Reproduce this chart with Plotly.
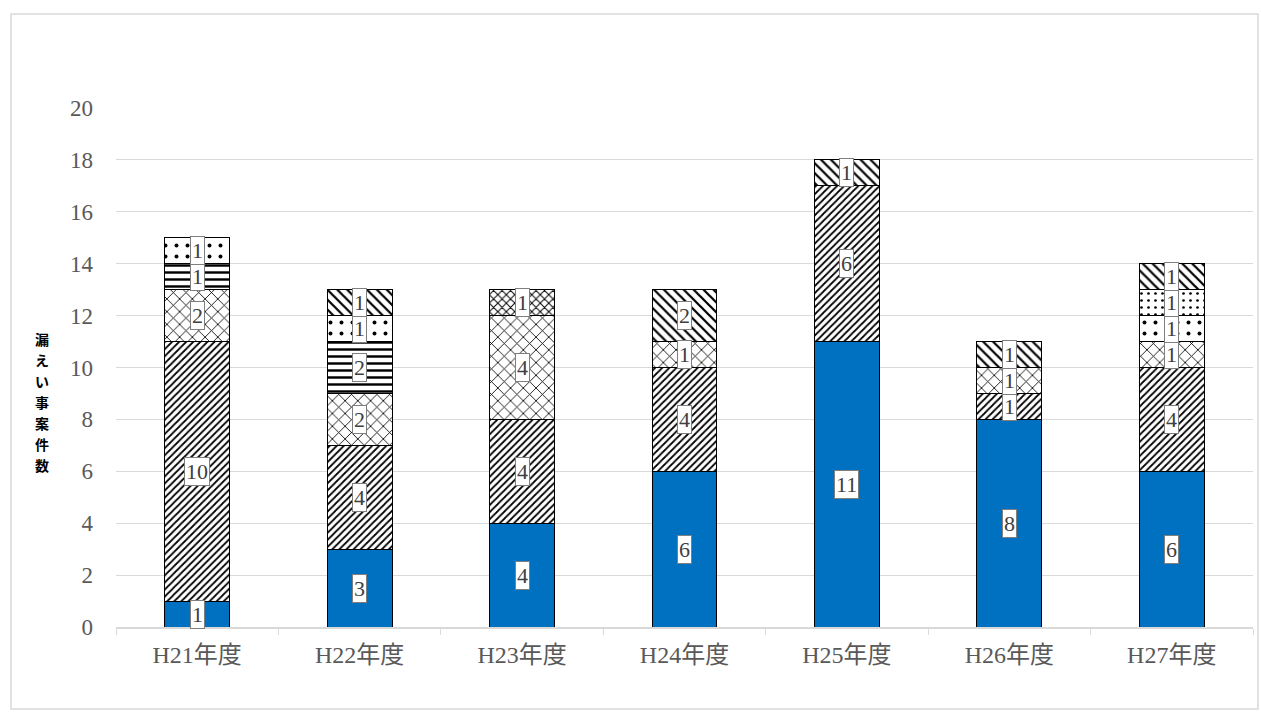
import plotly.graph_objects as go

categories = ["H21年度", "H22年度", "H23年度", "H24年度", "H25年度", "H26年度", "H27年度"]

s_blue = [1, 3, 4, 6, 11, 8, 6]
s_fdiag = [10, 4, 4, 4, 6, 1, 4]
s_wave = [2, 2, 4, 1, 0, 1, 1]
s_hline = [1, 2, 0, 0, 0, 0, 0]
s_rdots = [1, 1, 0, 0, 0, 0, 1]
s_gdots = [0, 0, 0, 0, 0, 0, 1]
s_weave = [0, 0, 1, 0, 0, 0, 0]
s_bdiag = [0, 1, 0, 2, 1, 1, 1]

yticks = [0, 2, 4, 6, 8, 10, 12, 14, 16, 18, 20]
y_title = "漏えい事案件数"


def pat(shape, size, solidity):
    return dict(color="white", pattern=dict(shape=shape, fgcolor="black", bgcolor="white",
                                            fgopacity=1, size=size, solidity=solidity))


series = [
    (s_blue, dict(color="#0070C0")),
    (s_fdiag, pat("/", 5, 0.35)),
    (s_wave, pat("x", 9, 0.18)),
    (s_hline, pat("-", 7, 0.35)),
    (s_rdots, pat(".", 11, 0.1)),
    (s_gdots, pat(".", 7, 0.12)),
    (s_weave, pat("x", 6, 0.3)),
    (s_bdiag, pat("\\", 7, 0.32)),
]

fig = go.Figure()
for vals, marker in series:
    m = dict(marker)
    m["line"] = dict(color="black", width=1)
    fig.add_trace(go.Bar(x=categories, y=vals, marker=m, hoverinfo="skip"))

annotations = []
cum = [0] * len(categories)
for vals, _ in series:
    for i, v in enumerate(vals):
        if v > 0:
            annotations.append(dict(
                x=categories[i], y=cum[i] + v / 2, xref="x", yref="y",
                text=str(v), showarrow=False,
                font=dict(family="Liberation Serif", size=22, color="#404040"),
                bgcolor="white", bordercolor="#7f7f7f", borderwidth=1, borderpad=1,
            ))
        cum[i] += v

# vertical y-axis title, one character per line
for k, ch in enumerate(y_title):
    annotations.append(dict(
        x=-0.065, y=(627 - (339 + 21 * k)) / 519, xref="paper", yref="paper",
        text="<b>" + ch + "</b>", showarrow=False,
        font=dict(family="Noto Sans CJK JP", size=14, color="black"),
        xanchor="center", yanchor="middle", borderpad=0,
    ))

fig.update_layout(
    barmode="stack",
    bargap=0.6,
    width=1261, height=720,
    margin=dict(l=116, r=8, t=108, b=93),
    paper_bgcolor="white", plot_bgcolor="white",
    showlegend=False,
    annotations=annotations,
    shapes=[dict(type="rect", xref="paper", yref="paper",
                 x0=-0.0923, x1=1.0044, y0=-0.158, y1=1.181,
                 line=dict(color="#d9d9d9", width=1.5), fillcolor="rgba(0,0,0,0)", layer="below")],
    font=dict(family="Liberation Serif, Noto Sans CJK JP", color="#595959", size=18),
)
fig.update_xaxes(
    showline=True, linecolor="#d9d9d9", linewidth=1.5,
    ticks="outside", tickson="boundaries", ticklen=6, tickcolor="#d9d9d9",
    tickfont=dict(family="Liberation Serif, Noto Sans CJK JP", size=24, color="#595959"),
    ticklabelstandoff=5,
    showgrid=False,
)
fig.update_yaxes(
    range=[0, 20], tickvals=yticks, showgrid=True, gridcolor="#d9d9d9", gridwidth=1,
    zeroline=False, showline=False, ticks="",
    tickfont=dict(family="Liberation Serif", size=23, color="#595959"),
    ticklabelstandoff=22,
)

fig.write_html("out.html")
